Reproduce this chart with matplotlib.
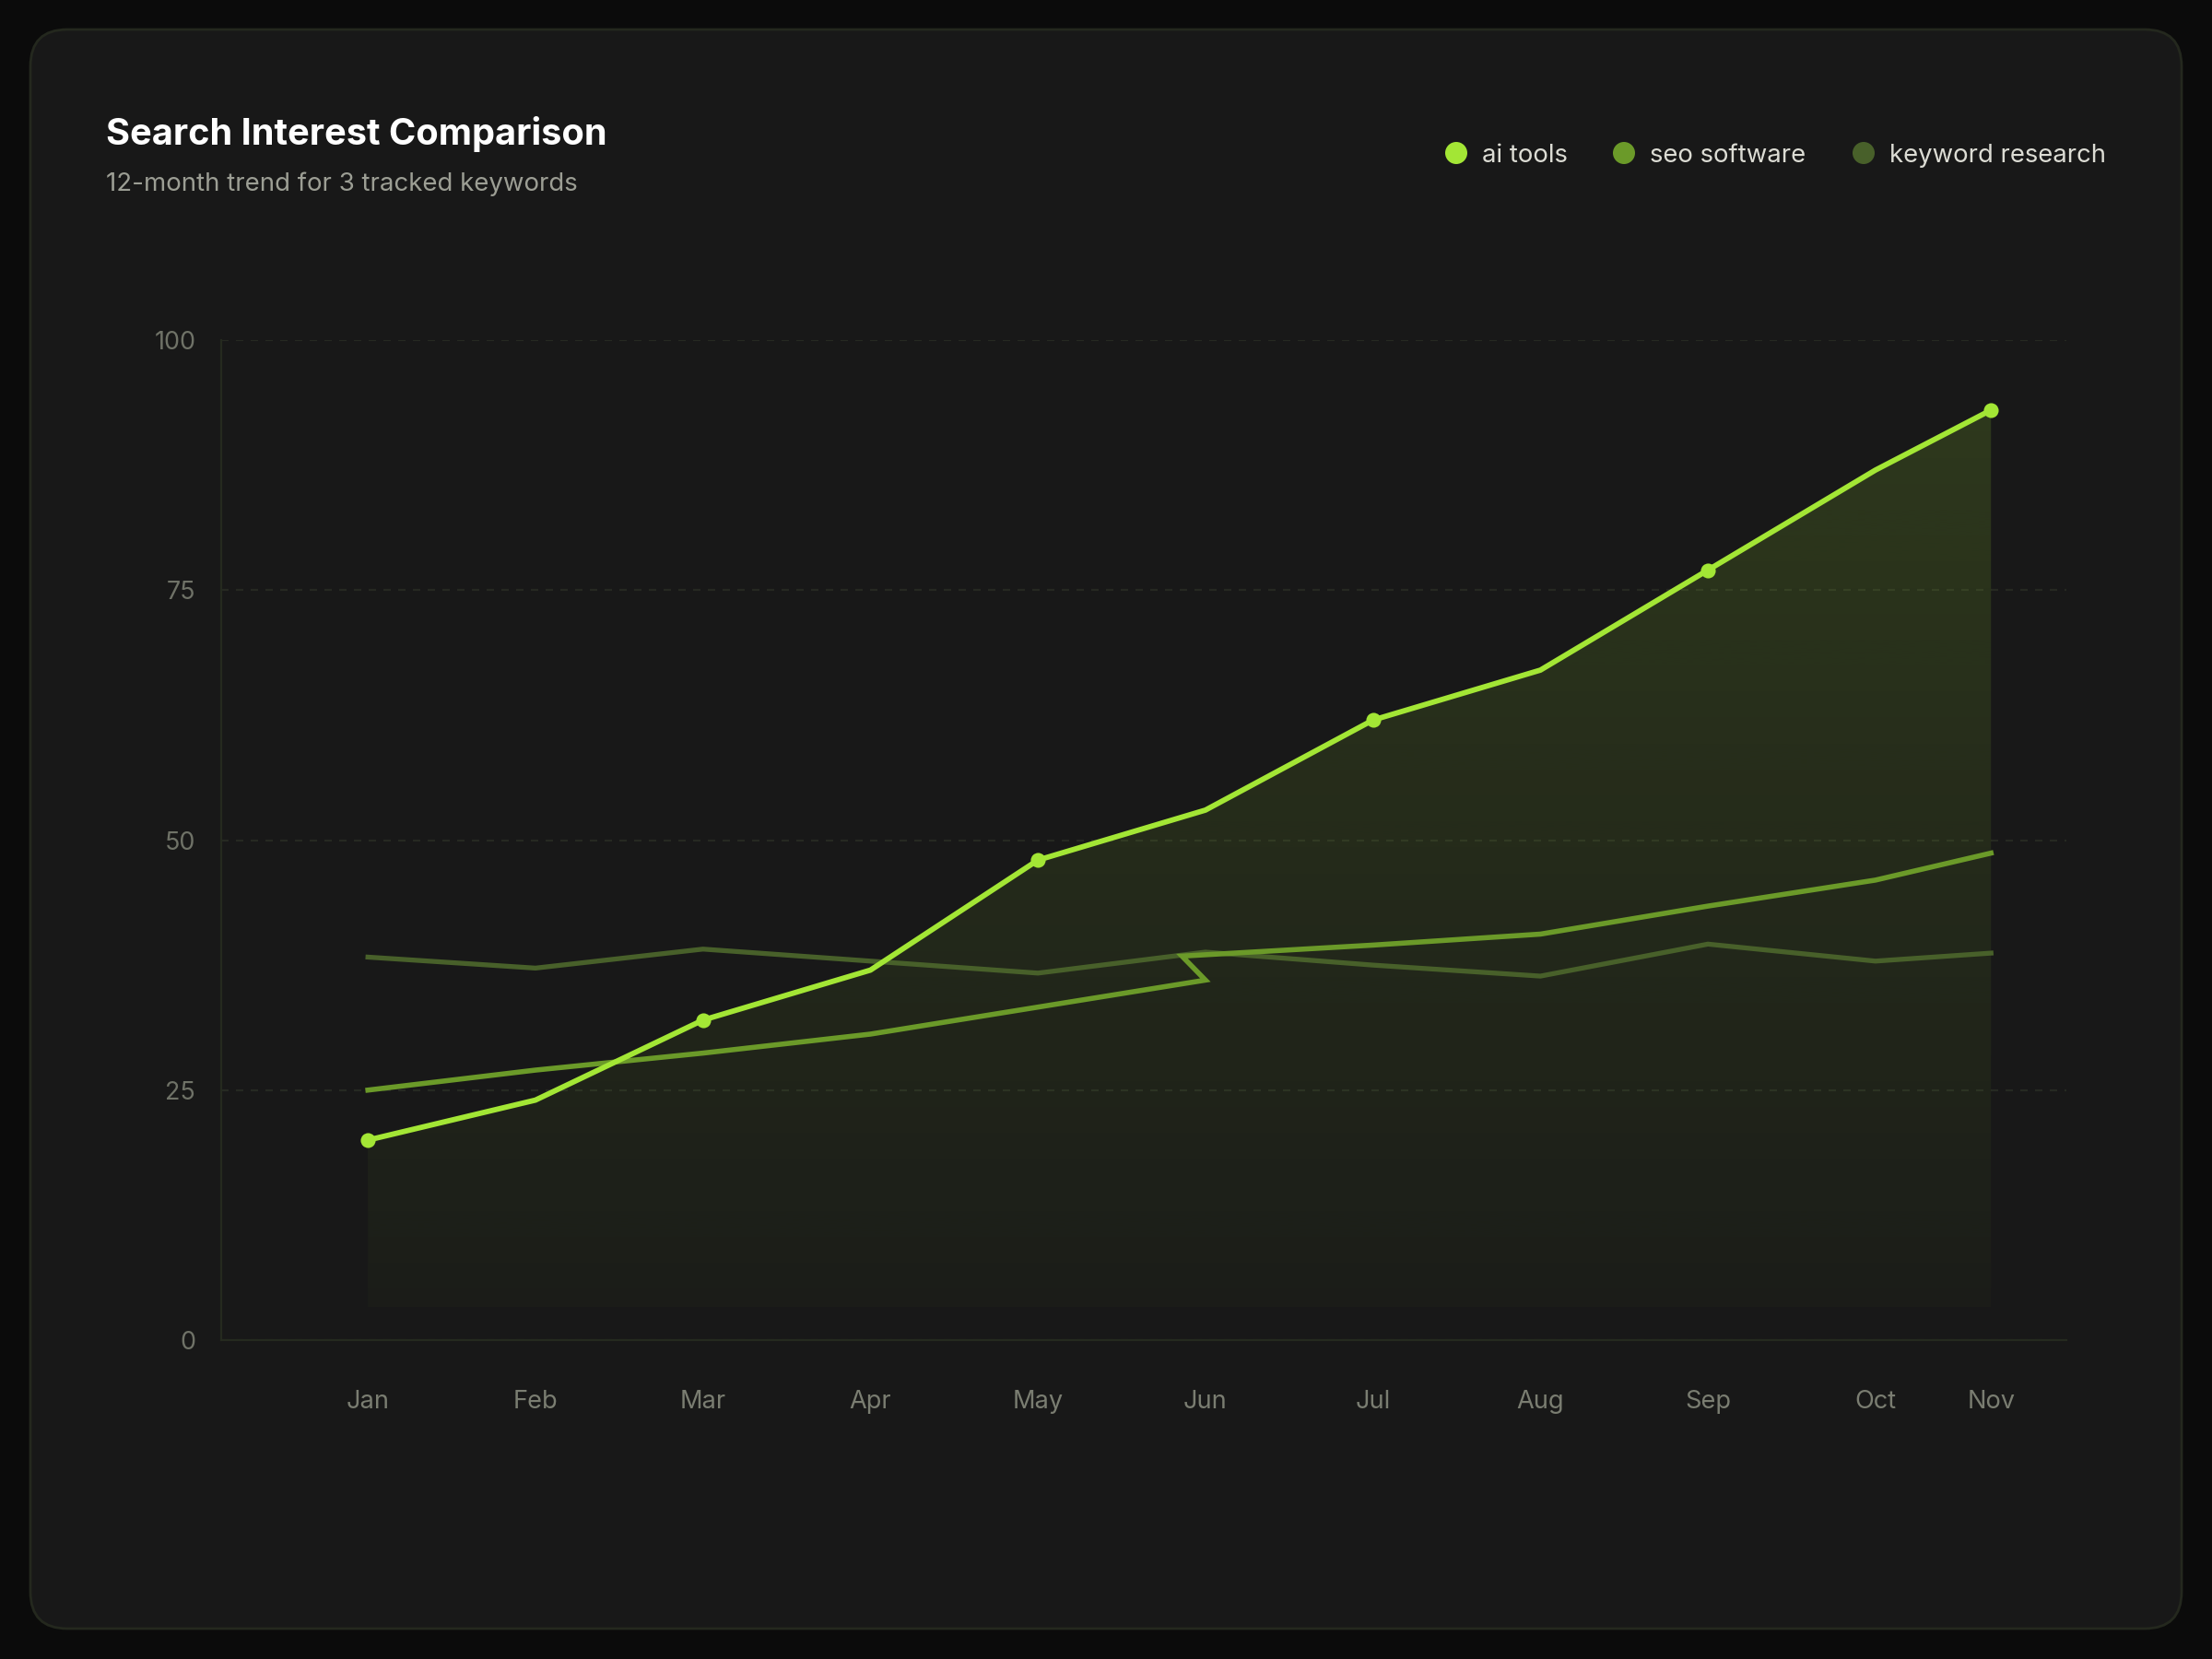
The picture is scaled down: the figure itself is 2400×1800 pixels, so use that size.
import numpy as np
import matplotlib
matplotlib.use("Agg")
import matplotlib.pyplot as plt
from matplotlib.patches import FancyBboxPatch, Circle
from matplotlib.colors import to_rgb

plt.rcParams['font.family'] = ['Inter', 'DejaVu Sans']

# data
months = ["Jan", "Feb", "Mar", "Apr", "May", "Jun", "Jul", "Aug", "Sep", "Oct", "Nov"]
month_pos = [0, 1, 2, 3, 4, 5, 6, 7, 8, 9, 9.69]
ai_tools = [20, 24, 32, 37, 48, 53, 62, 67, 77, 87, 93]
# the seo line doubles back just before Jun in the source chart
seo_pos = [0, 1, 2, 3, 4, 5, 4.86, 6, 7, 8, 9, 9.69]
seo_software = [25, 27, 28.7, 30.6, 33.3, 36, 38.4, 39.5, 40.6, 43.4, 46, 48.7]
keyword_research = [38.3, 37.2, 39.1, 37.9, 36.7, 38.8, 37.5, 36.4, 39.6, 37.9, 38.7]
series_names = ["ai tools", "seo software", "keyword research"]
yticks = [0, 25, 50, 75, 100]

lime = "#a3e635"
seo_col = "#6b9a29"
kw_col = "#48602a"
colors = [lime, seo_col, kw_col]

W, H = 2400, 1800
fig = plt.figure(figsize=(12, 9), dpi=200, facecolor="#0b0b0b")

# background layer in pixel coords
bg = fig.add_axes([0, 0, 1, 1])
bg.set_xlim(0, W)
bg.set_ylim(H, 0)
bg.axis("off")
bg.add_patch(FancyBboxPatch((33, 32), 2334, 1735,
                            boxstyle="round,pad=0,rounding_size=40",
                            fc="#181818", ec="#24281e", lw=1.0))

bg.text(115, 157, "Search Interest Comparison", color="white",
        fontsize=14.3, fontweight="bold", va="baseline", ha="left")
bg.text(115, 207, "12-month trend for 3 tracked keywords", color="#9c9e94",
        fontsize=9.95, va="baseline", ha="left")

# legend
dot_x = [1580, 1762, 2022]
for name, c, dx in zip(series_names, colors, dot_x):
    bg.add_patch(Circle((dx, 166), 12, fc=c, ec="none"))
    bg.text(dx + 28, 176, name, color="#dcdcd4", fontsize=9.9,
            va="baseline", ha="left")

# chart
ax = fig.add_axes([240 / W, 1 - 1454 / H, (2242 - 240) / W, (1454 - 369) / H])
ax.patch.set_alpha(0)
ax.set_xlim(-0.876, 10.14)
ax.set_ylim(0, 100)

for s in ["top", "right"]:
    ax.spines[s].set_visible(False)
for s in ["left", "bottom"]:
    ax.spines[s].set_color("#252a1f")
    ax.spines[s].set_linewidth(0.8)

ax.set_yticks(yticks)
ax.set_xticks(month_pos)
ax.set_xticklabels(months)
ax.tick_params(axis="y", length=0, pad=10, labelsize=9.7, labelcolor="#6f7267")
ax.tick_params(axis="x", length=0, pad=19.5, labelsize=9.8, labelcolor="#7a7d71")
ax.grid(axis="y", color="#262922", lw=0.8, ls=(0, (3.6, 3.6)))
ax.set_axisbelow(True)

# gradient fill under ai tools
fill_floor = 3.3
poly = ax.fill_between(month_pos, ai_tools, fill_floor, fc="none", ec="none")
top = max(ai_tools)
n = 256
alpha = np.linspace(0.025, 0.16, n)
grad = np.zeros((n, 1, 4))
grad[:, 0, :3] = to_rgb(lime)
grad[:, 0, 3] = alpha
im = ax.imshow(grad, extent=[month_pos[0], month_pos[-1], fill_floor, top],
               origin="lower", aspect="auto", interpolation="bilinear", zorder=1)
im.set_clip_path(poly.get_paths()[0], transform=ax.transData)

ax.plot(month_pos, keyword_research, color=kw_col, lw=1.9, zorder=2,
        solid_joinstyle="miter")
ax.plot(seo_pos, seo_software, color=seo_col, lw=2.0, zorder=3,
        solid_joinstyle="miter")
ax.plot(month_pos, ai_tools, color=lime, lw=2.1, zorder=4,
        marker="o", markevery=2, ms=5.8, mec="none")

fig.savefig("out.png", dpi=200, facecolor=fig.get_facecolor())
